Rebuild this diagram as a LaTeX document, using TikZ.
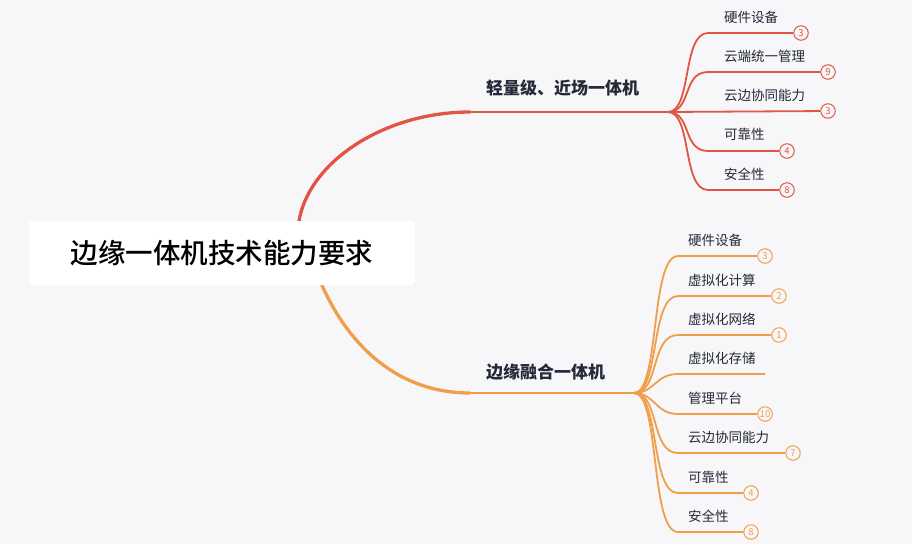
\documentclass[tikz,border=0pt]{standalone}
\usepackage{fontspec}
\setmainfont{Noto Sans CJK SC}
\newfontfamily\cjkm{Noto Sans CJK SC Medium}
\usepackage{tikz}
\usetikzlibrary{positioning}
\definecolor{main}{RGB}{226,84,68}
\definecolor{second}{RGB}{240,158,74}
\definecolor{third}{RGB}{36,42,56}
\definecolor{bgc}{RGB}{247,247,250}
\tikzset{
  % curve
	cstcurve1/.style      ={main,line width=3.3pt,line cap=round},
	cstcurve2/.style      ={second,line width=3.3pt,line cap=round},
	cstline1/.style       ={main,line width=1.8pt},
	cstline2/.style       ={second,line width=1.8pt},
  % node
	cstroot/.style        ={fill=white,rounded corners=4pt,minimum width=386pt,minimum height=64pt,text=black,font=\fontsize{27.5}{32}\cjkm},
	cstbranch/.style      ={text=third,anchor=west,inner sep=0pt,font=\fontsize{17}{20}\selectfont\bfseries},
	cstleaf/.style        ={text=third,anchor=west,inner sep=0pt,font=\fontsize{13.5}{16}\selectfont},
	cstbadge1/.style      ={circle,draw=main,fill=bgc,text=main,line width=1pt,minimum size=14.5pt,inner sep=0pt,font=\fontsize{9.5}{10}\selectfont},
	cstbadge2/.style      ={circle,draw=second,fill=bgc,text=second,line width=1pt,minimum size=14.5pt,inner sep=0pt,font=\fontsize{9.5}{10}\selectfont}
}
\begin{document}
\begin{tikzpicture}[x=1pt,y=-1pt]
	\fill[bgc] (0,0) rectangle (912,544);
	\useasboundingbox (0,0) rectangle (912,544);
	% branches
	\coordinate (o1) at (300,253);
	\coordinate (o2) at (310,253);
	\coordinate (b1) at (470,112);
	\coordinate (b2) at (470,393);
	\coordinate (f1) at (668,112);
	\coordinate (f2) at (634,393);
	\draw[cstcurve1] (o1) .. controls (283,180) and (370,112) .. (b1);
	\draw[cstcurve2] (o2) .. controls (330,320) and (380,393) .. (b2);
	\draw[cstline1] (b1)--(f1);
	\draw[cstline2] (b2)--(f2);
	\node[cstroot] (root) at (222,253) {边缘一体机技术能力要求};
	\node[cstbranch] (br1) at (486,88) {轻量级、近场一体机};
	\node[cstbranch] (br2) at (486,372) {边缘融合一体机};
	% first branch
	\node[cstleaf] (a1) at (724,17) {硬件设备};
	\node[cstleaf] (a2) at (724,56) {云端统一管理};
	\node[cstleaf] (a3) at (724,95) {云边协同能力};
	\node[cstleaf] (a4) at (724,134) {可靠性};
	\node[cstleaf] (a5) at (724,174) {安全性};
	\node[cstbadge1] (a1n) at (801,33) {3};
	\node[cstbadge1] (a2n) at (828,72) {9};
	\node[cstbadge1] (a3n) at (828,111) {3};
	\node[cstbadge1] (a4n) at (787,151) {4};
	\node[cstbadge1] (a5n) at (787,190) {8};
	\draw[cstline1] (f1) .. controls (692,112) and (682,33) .. (708,33) -- (a1n);
	\draw[cstline1] (f1) .. controls (692,112) and (682,72) .. (708,72) -- (a2n);
	\draw[cstline1] (f1) -- (a3n);
	\draw[cstline1] (f1) .. controls (692,112) and (682,151) .. (708,151) -- (a4n);
	\draw[cstline1] (f1) .. controls (692,112) and (682,190) .. (708,190) -- (a5n);
	% second branch
	\node[cstleaf] (c1) at (688,240) {硬件设备};
	\node[cstleaf] (c2) at (688,280) {虚拟化计算};
	\node[cstleaf] (c3) at (688,319) {虚拟化网络};
	\node[cstleaf] (c4) at (688,358) {虚拟化存储};
	\node[cstleaf] (c5) at (688,398) {管理平台};
	\node[cstleaf] (c6) at (688,437) {云边协同能力};
	\node[cstleaf] (c7) at (688,477) {可靠性};
	\node[cstleaf] (c8) at (688,516) {安全性};
	\node[cstbadge2] (c1n) at (765,256) {3};
	\node[cstbadge2] (c2n) at (779,296) {2};
	\node[cstbadge2] (c3n) at (779,335) {1};
	\coordinate (c4n) at (765,374);
	\node[cstbadge2] (c5n) at (765,414) {10};
	\node[cstbadge2] (c6n) at (793,453) {7};
	\node[cstbadge2] (c7n) at (751,493) {4};
	\node[cstbadge2] (c8n) at (751,532) {8};
	\draw[cstline2] (f2) .. controls (660,393) and (650,256) .. (678,256) -- (c1n);
	\draw[cstline2] (f2) .. controls (660,393) and (650,296) .. (678,296) -- (c2n);
	\draw[cstline2] (f2) .. controls (660,393) and (650,335) .. (678,335) -- (c3n);
	\draw[cstline2] (f2) .. controls (655,393) and (655,374) .. (678,374) -- (c4n);
	\draw[cstline2] (f2) .. controls (655,393) and (655,414) .. (678,414) -- (c5n);
	\draw[cstline2] (f2) .. controls (660,393) and (650,453) .. (678,453) -- (c6n);
	\draw[cstline2] (f2) .. controls (660,393) and (650,493) .. (678,493) -- (c7n);
	\draw[cstline2] (f2) .. controls (660,393) and (650,532) .. (678,532) -- (c8n);
\end{tikzpicture}
\end{document}
